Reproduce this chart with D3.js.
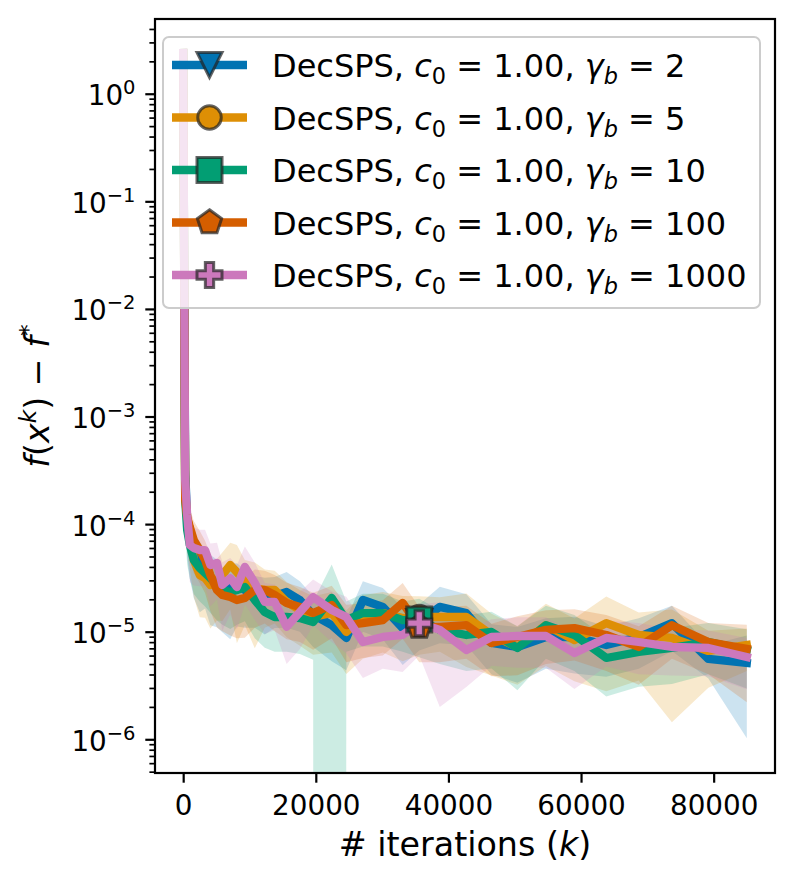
<!DOCTYPE html>
<html><head><meta charset="utf-8">
<script src="https://cdn.jsdelivr.net/npm/d3@7"></script>
<style>
body{margin:0;background:#fff}
svg text{font-family:"DejaVu Sans";fill:#000}
</style></head><body>
<svg id="c" width="795" height="887"></svg>
<script>
// ---------------- data ----------------
const iterations = [0, 300, 600, 1000, 1600, 2500, 3300, 4100, 5100, 5900, 7100, 8100, 9300, 10800, 12300, 13800, 15600, 17600, 19600, 22400, 24600, 27100, 30100, 33100, 35600, 38700, 42700, 46500, 50400, 54700, 59000, 63800, 68700, 73700, 79200, 85000];

const gammaLabels = ["2", "5", "10", "100", "1000"];

const meanGamma2 = [2.39, 3.18e-4, 1.09e-4, 7.11e-5, 5.16e-5, 4.17e-5, 3.74e-5, 3.15e-5, 2.90e-5, 2.44e-5, 2.55e-5, 2.72e-5, 2.44e-5, 2.19e-5, 2.06e-5, 2.15e-5, 2.34e-5, 1.97e-5, 1.43e-5, 1.15e-5, 8.74e-6, 1.97e-5, 1.70e-5, 1.08e-5, 1.23e-5, 1.70e-5, 1.49e-5, 7.85e-6, 7.21e-6, 8.93e-6, 8.93e-6, 7.52e-6, 8.93e-6, 1.20e-5, 5.58e-6, 5.12e-6];
const stdGamma2 = [0, 1.5e-4, 6.0e-5, 4.0e-5, 3.1e-5, 2.65e-5, 2.1e-5, 2.0e-5, 1.8e-5, 1.45e-5, 1.7e-5, 1.6e-5, 1.35e-5, 1.1e-5, 1.12e-5, 1.07e-5, 1.25e-5, 9.7e-6, 7.1e-6, 6.2e-6, 4.35e-6, 9.7e-6, 8.5e-6, 5.9e-6, 5.6e-6, 9.2e-6, 7.4e-6, 3.85e-6, 3.85e-6, 4.4e-6, 4.85e-6, 3.7e-6, 4.4e-6, 5.4e-6, 1.9e-6, 4.1e-6];

const meanGamma5 = [2.39, 2.07e-4, 1.164e-4, 8.81e-5, 4.64e-5, 3.36e-5, 3.15e-5, 2.72e-5, 3.02e-5, 3.36e-5, 4.17e-5, 3.58e-5, 2.90e-5, 2.55e-5, 2.44e-5, 2.44e-5, 1.89e-5, 1.59e-5, 1.37e-5, 1.49e-5, 9.94e-6, 1.37e-5, 1.49e-5, 1.34e-5, 1.37e-5, 1.37e-5, 1.37e-5, 9.32e-6, 7.21e-6, 1.15e-5, 8.37e-6, 1.20e-5, 9.32e-6, 8.74e-6, 6.62e-6, 7.52e-6];
const stdGamma5 = [0, 9.5e-5, 6.0e-5, 4.9e-5, 2.55e-5, 2.0e-5, 1.8e-5, 1.65e-5, 1.75e-5, 2.1e-5, 2.55e-5, 2.8e-5, 1.75e-5, 1.85e-5, 1.35e-5, 1.25e-5, 1.0e-5, 8.5e-6, 7.6e-6, 8.5e-6, 5.9e-6, 8.1e-6, 8.5e-6, 8.1e-6, 7.6e-6, 7.2e-6, 9e-6, 5.4e-6, 4.0e-6, 6.7e-6, 4.9e-6, 9.2e-6, 5.8e-6, 7.3e-6, 3.6e-6, 3.2e-6];

const meanGamma10 = [2.39, 1.675e-4, 8.81e-5, 6.39e-5, 4.64e-5, 3.91e-5, 3.51e-5, 3.15e-5, 2.72e-5, 2.44e-5, 2.34e-5, 2.44e-5, 2.60e-5, 1.97e-5, 1.52e-5, 1.37e-5, 1.37e-5, 1.34e-5, 1.23e-5, 2.06e-5, 1.28e-5, 1.49e-5, 1.49e-5, 1.28e-5, 1.30e-5, 1.04e-5, 9.32e-6, 9.94e-6, 7.06e-6, 1.15e-5, 9.32e-6, 5.70e-6, 6.48e-6, 7.06e-6, 8.02e-6, 6.76e-6];
const stdGamma10 = [0, 8.2e-5, 4.6e-5, 3.3e-5, 2.4e-5, 2.0e-5, 1.8e-5, 1.65e-5, 1.45e-5, 1.28e-5, 1.28e-5, 1.28e-5, 1.35e-5, 1.1e-5, 8.1e-6, 7.2e-6, 7.2e-6, 7.2e-6, 6.8e-6, 2.15e-5, 6.3e-6, 7.6e-6, 7.6e-6, 6.3e-6, 7.2e-6, 5.4e-6, 5.0e-6, 5.4e-6, 4.2e-6, 5.9e-6, 5.0e-6, 3.2e-6, 3.4e-6, 3.8e-6, 4.0e-6, 3.8e-6];

const meanGamma100 = [2.39, 1.675e-4, 1.164e-4, 9.40e-5, 7.11e-5, 5.74e-5, 4.64e-5, 3.36e-5, 2.44e-5, 2.19e-5, 2.10e-5, 1.97e-5, 2.06e-5, 2.44e-5, 2.44e-5, 2.19e-5, 1.85e-5, 1.70e-5, 1.49e-5, 1.77e-5, 1.15e-5, 1.20e-5, 1.28e-5, 1.85e-5, 1.11e-5, 1.11e-5, 1.15e-5, 7.85e-6, 8.93e-6, 1.04e-5, 1.08e-5, 9.32e-6, 7.21e-6, 1.15e-5, 8.02e-6, 6.91e-6];
const stdGamma100 = [0, 8.2e-5, 5.5e-5, 4.6e-5, 3.6e-5, 2.9e-5, 2.35e-5, 1.8e-5, 1.35e-5, 1.18e-5, 1.18e-5, 1.1e-5, 1.18e-5, 1.35e-5, 1.25e-5, 1.18e-5, 1.0e-5, 9e-6, 8.1e-6, 9e-6, 6.3e-6, 6.3e-6, 6.8e-6, 9.9e-6, 5.9e-6, 5.9e-6, 5.9e-6, 4.0e-6, 5.0e-6, 5.4e-6, 5.4e-6, 5.0e-6, 4.0e-6, 5.9e-6, 4.0e-6, 4.7e-6];

const meanGamma1000 = [2.39, 2.57e-4, 1.215e-4, 6.39e-5, 5.99e-5, 5.74e-5, 5.74e-5, 4.17e-5, 4.35e-5, 2.72e-5, 3.15e-5, 2.60e-5, 4.0e-5, 2.84e-5, 1.89e-5, 1.89e-5, 1.11e-5, 1.52e-5, 2.10e-5, 1.59e-5, 1.37e-5, 8.02e-6, 8.93e-6, 9.32e-6, 1.20e-5, 1.04e-5, 6.76e-6, 8.93e-6, 9.12e-6, 9.12e-6, 6.34e-6, 8.74e-6, 8.02e-6, 7.21e-6, 7.06e-6, 5.82e-6];
const stdGamma1000 = [0, 1.2e-4, 5.6e-5, 3.5e-5, 3.3e-5, 3.1e-5, 3.1e-5, 2.45e-5, 2.35e-5, 1.7e-5, 1.7e-5, 1.55e-5, 2.2e-5, 1.55e-5, 9.4e-6, 8.6e-6, 6.1e-6, 8.3e-6, 9.5e-6, 7.9e-6, 7.4e-6, 4.3e-6, 4.4e-6, 5.1e-6, 6.0e-6, 8.4e-6, 3.7e-6, 4.1e-6, 4.5e-6, 4.5e-6, 3.4e-6, 4.0e-6, 4.0e-6, 3.3e-6, 3.2e-6, 2.9e-6];

const markerIteration = 35600;
const xTickValues = [0, 20000, 40000, 60000, 80000];
const yMajorTicks = [1, 1e-1, 1e-2, 1e-3, 1e-4, 1e-5, 1e-6];
const yMajorExponents = ["0", "\u22121", "\u22122", "\u22123", "\u22124", "\u22125", "\u22126"];

// ---------------- styling ----------------
const colors = ["#0173b2", "#de8f05", "#029e73", "#d55e00", "#cc78bc"];
const markerKinds = ["tri_down", "circle", "square", "pentagon", "plus"];
const series = [
  {mean: meanGamma2, std: stdGamma2},
  {mean: meanGamma5, std: stdGamma5},
  {mean: meanGamma10, std: stdGamma10},
  {mean: meanGamma100, std: stdGamma100},
  {mean: meanGamma1000, std: stdGamma1000}
].map((s, i) => ({...s, gamma: gammaLabels[i], color: colors[i], marker: markerKinds[i]}));

const L = 155, R = 775, T = 19, B = 773;
const svg = d3.select("#c");
const x = d3.scaleLinear().domain([-4250, 89250]).range([L, R]);
const y = d3.scaleLog().domain([4.86e-7, 4.95]).range([B, T]);
const FLOOR = 1e-300; // non-positive values clipped like matplotlib log scale

function markerPath(kind, r) {
  const p = d3.path();
  if (kind === "tri_down") {
    p.moveTo(-r, -r); p.lineTo(r, -r); p.lineTo(0, r); p.closePath();
  } else if (kind === "circle") {
    p.arc(0, 0, r * 0.94, 0, 2 * Math.PI); p.closePath();
  } else if (kind === "square") {
    p.rect(-r, -r, 2 * r, 2 * r);
  } else if (kind === "pentagon") {
    const rr = r * 1.02;
    for (let k = 0; k < 5; k++) {
      const a = -Math.PI / 2 + k * 2 * Math.PI / 5;
      if (k === 0) p.moveTo(rr * Math.cos(a), rr * Math.sin(a)); else p.lineTo(rr * Math.cos(a), rr * Math.sin(a));
    }
    p.closePath();
  } else {
    const a = r / 3;
    const pts = [[-a,-r],[a,-r],[a,-a],[r,-a],[r,a],[a,a],[a,r],[-a,r],[-a,a],[-r,a],[-r,-a],[-a,-a]];
    pts.forEach((q, k) => k ? p.lineTo(q[0], q[1]) : p.moveTo(q[0], q[1]));
    p.closePath();
  }
  return p.toString();
}
const MR = 12.5, MSW = 3;

svg.append("defs").append("clipPath").attr("id", "clip")
  .append("rect").attr("x", L).attr("y", T).attr("width", R - L).attr("height", B - T);

const plot = svg.append("g").attr("clip-path", "url(#clip)");
const bandLayer = plot.append("g");
const lineLayer = plot.append("g");
const markerIdx = iterations.indexOf(markerIteration);

series.forEach(s => {
  const pts = iterations.map((it, i) => ({it, m: s.mean[i], sd: s.std[i]}));
  const area = d3.area()
    .x(d => x(d.it))
    .y0(d => y(Math.max(d.m - d.sd, FLOOR)))
    .y1(d => y(d.m + d.sd));
  bandLayer.append("path").attr("d", area(pts))
    .attr("fill", s.color).attr("fill-opacity", 0.2);
  const line = d3.line().x(d => x(d.it)).y(d => y(d.m));
  lineLayer.append("path").attr("d", line(pts))
    .attr("fill", "none").attr("stroke", s.color).attr("stroke-width", 8.3)
    .attr("stroke-linejoin", "round").attr("stroke-linecap", "square");
});
series.forEach(s => {
  lineLayer.append("path").attr("d", markerPath(s.marker, MR))
    .attr("transform", `translate(${x(iterations[markerIdx])},${y(s.mean[markerIdx])})`)
    .attr("fill", s.color).attr("stroke", "#222").attr("stroke-opacity", 0.7).attr("stroke-width", MSW);
});

// ---------------- axes ----------------
const xAxis = svg.append("g").attr("transform", `translate(0,${B})`)
  .call(d3.axisBottom(x).tickValues(xTickValues).tickSize(9.7).tickPadding(13).tickFormat(d3.format("d")));
xAxis.select(".domain").remove();
xAxis.selectAll(".tick line").attr("stroke", "#000").attr("stroke-width", 2.2);
xAxis.selectAll(".tick text").attr("font-size", 27.8).attr("font-family", "DejaVu Sans").attr("fill", "#000");

// minor y ticks
const minorTicks = [];
for (let e = -7; e <= 0; e++) for (let m = 2; m <= 9; m++) {
  const v = m * Math.pow(10, e);
  if (v > y.domain()[0] && v < y.domain()[1]) minorTicks.push(v);
}
const yMinor = svg.append("g").attr("transform", `translate(${L},0)`)
  .call(d3.axisLeft(y).tickValues(minorTicks).tickSize(5.6).tickFormat(() => ""));
yMinor.select(".domain").remove();
yMinor.selectAll(".tick line").attr("stroke", "#000").attr("stroke-width", 1.7);

const yAxis = svg.append("g").attr("transform", `translate(${L},0)`)
  .call(d3.axisLeft(y).tickValues(yMajorTicks).tickSize(9.7).tickFormat(() => ""));
yAxis.select(".domain").remove();
yAxis.selectAll(".tick line").attr("stroke", "#000").attr("stroke-width", 2.2);
yAxis.selectAll(".tick text").remove();
yAxis.selectAll(".tick").each(function(d, i) {
  const t = d3.select(this).append("text")
    .attr("x", -19.5).attr("y", 11).attr("text-anchor", "end")
    .attr("font-size", 27.8).attr("fill", "#000").attr("font-family", "DejaVu Sans");
  t.append("tspan").text("10");
  t.append("tspan").attr("dy", -11).attr("font-size", 19.5).text(yMajorExponents[i]);
});

// frame
svg.append("rect").attr("x", L).attr("y", T).attr("width", R - L).attr("height", B - T)
  .attr("fill", "none").attr("stroke", "#000").attr("stroke-width", 2.2);

// axis labels
const xl = svg.append("text").attr("x", (L + R) / 2).attr("y", 856).attr("text-anchor", "middle")
  .attr("font-size", 33.3).style("white-space", "pre");
xl.append("tspan").text("# iterations (");
xl.append("tspan").attr("font-style", "italic").text("k");
xl.append("tspan").text(")");

const yl = svg.append("text").attr("transform", `translate(49,${(T + B) / 2}) rotate(-90)`)
  .attr("text-anchor", "middle").attr("font-size", 33.3).style("white-space", "pre");
yl.append("tspan").attr("font-style", "italic").text("f");
yl.append("tspan").text("(");
yl.append("tspan").attr("font-style", "italic").text("x");
yl.append("tspan").attr("font-style", "italic").attr("font-size", 23.3).attr("dy", -13).text("k");
yl.append("tspan").attr("dy", 13).text(") \u2212 ");
yl.append("tspan").attr("font-style", "italic").text("f");
yl.append("tspan").attr("font-size", 23.3).attr("dy", -13).text("*");

// ---------------- legend ----------------
const lg = svg.append("g");
lg.append("rect").attr("x", 163).attr("y", 37).attr("width", 597).attr("height", 271).attr("rx", 6)
  .attr("fill", "#fff").attr("fill-opacity", 0.8).attr("stroke", "#cccccc").attr("stroke-width", 2);
series.forEach((s, i) => {
  const cy = 65 + i * 52.5;
  lg.append("line").attr("x1", 172).attr("x2", 247).attr("y1", cy).attr("y2", cy)
    .attr("stroke", s.color).attr("stroke-width", 8.3);
  lg.append("path").attr("d", markerPath(s.marker, MR)).attr("transform", `translate(209.5,${cy})`)
    .attr("fill", s.color).attr("stroke", "#222").attr("stroke-opacity", 0.7).attr("stroke-width", MSW);
  const t = lg.append("text").attr("x", 272).attr("y", cy + 12).attr("font-size", 32).style("white-space", "pre");
  t.append("tspan").text("DecSPS, ");
  t.append("tspan").attr("font-style", "italic").text("c");
  t.append("tspan").attr("font-size", 22.4).attr("dy", 7).text("0");
  t.append("tspan").attr("dy", -7).text(" = 1.00, ");
  t.append("tspan").attr("font-style", "italic").text("\u03b3");
  t.append("tspan").attr("font-style", "italic").attr("font-size", 22.4).attr("dy", 7).text("b");
  t.append("tspan").attr("dy", -7).text(" = " + s.gamma);
});
</script>
</body></html>
